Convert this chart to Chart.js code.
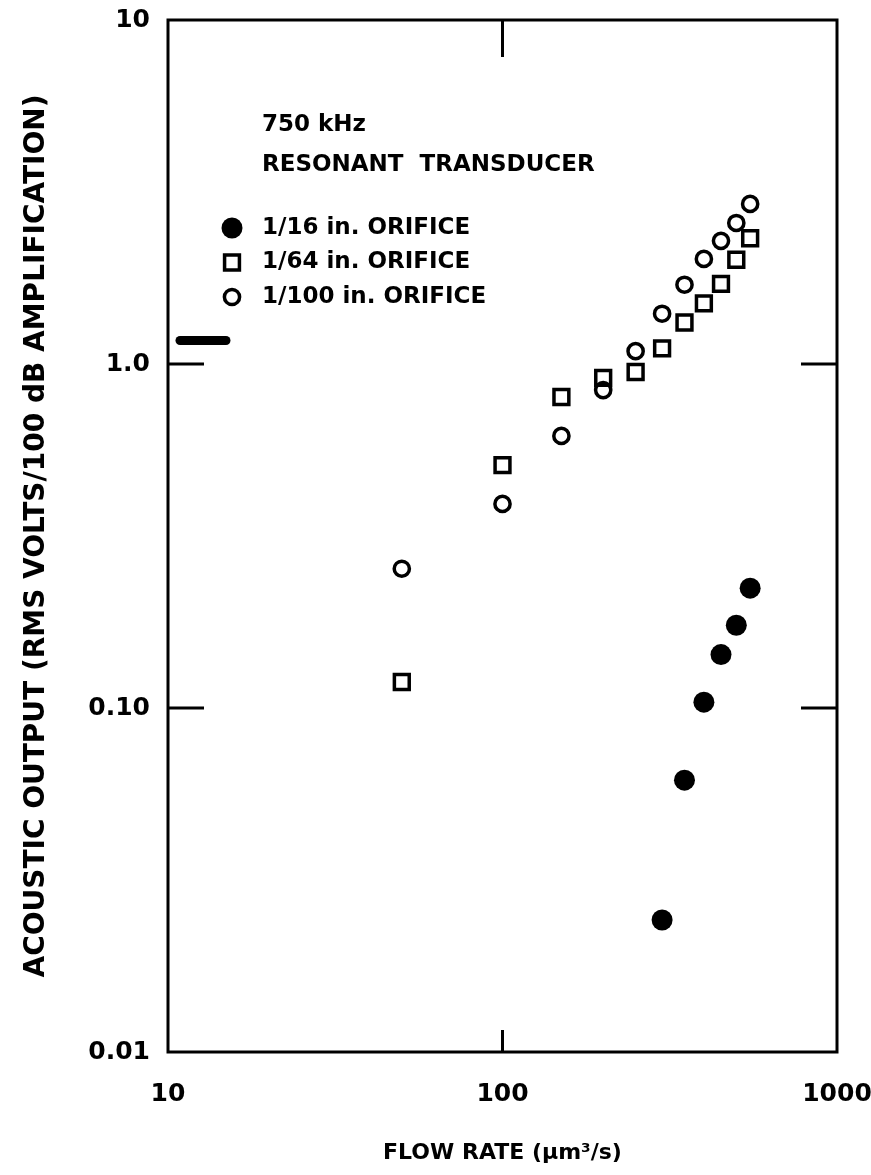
<!DOCTYPE html>
<html>
<head>
<meta charset="utf-8">
<script src="https://cdn.jsdelivr.net/npm/chart.js@4/dist/chart.umd.min.js"></script>
<style>
  html, body { margin: 0; padding: 0; background: #fff; }
  canvas { display: block; }
</style>
</head>
<body>
<canvas id="chart" width="871" height="1175"></canvas>
<script>
// Flow rates (µm³/s) at which each orifice was measured
const flowRates = [50, 100, 150, 200, 250, 300, 350, 400, 450, 500, 550];
const flowRates16 = [300, 350, 400, 450, 500, 550];

// Acoustic output, RMS volts per 100 dB amplification
const output16 = [0.0242, 0.0617, 0.104, 0.143, 0.174, 0.223];
const output64 = [0.119, 0.508, 0.802, 0.911, 0.948, 1.11, 1.32, 1.50, 1.71, 2.01, 2.32];
const output100 = [0.254, 0.392, 0.618, 0.84, 1.09, 1.40, 1.70, 2.02, 2.28, 2.57, 2.92];

const seriesLabels = ['1/16 in. ORIFICE', '1/64 in. ORIFICE', '1/100 in. ORIFICE'];
const headerLines = ['750 kHz', 'RESONANT  TRANSDUCER'];

// Axis ticks
const xTickValues = [10, 100, 1000];
const xTickLabels = ['10', '100', '1000'];
const yTickValues = [0.01, 0.1, 1, 10];
const yTickLabels = ['0.01', '0.10', '1.0', '10'];

// Inward tick marks drawn on the frame
const topTickValues = [100];
const bottomTickValues = [100];
const leftTickValues = [1, 0.1];
const rightTickValues = [1, 0.1];

const INK = '#000';
const FONT = '"DejaVu Sans", "Liberation Sans", Arial, sans-serif';

const toPoints = (xs, ys) => xs.map((x, i) => ({ x, y: ys[i] }));

// Plot frame with long inward ticks
const framePlugin = {
  id: 'frame',
  beforeDatasetsDraw(chart) {
    const { ctx, chartArea: a, scales: { x, y } } = chart;
    ctx.save();
    ctx.strokeStyle = INK;
    ctx.lineWidth = 3;
    ctx.lineCap = 'butt';
    ctx.strokeRect(a.left, a.top, a.right - a.left, a.bottom - a.top);
    const seg = (x1, y1, x2, y2) => { ctx.beginPath(); ctx.moveTo(x1, y1); ctx.lineTo(x2, y2); ctx.stroke(); };
    topTickValues.forEach(v => { const px = x.getPixelForValue(v); seg(px, a.top, px, a.top + 37); });
    bottomTickValues.forEach(v => { const px = x.getPixelForValue(v); seg(px, a.bottom, px, a.bottom - 22); });
    leftTickValues.forEach(v => { const py = y.getPixelForValue(v); seg(a.left, py, a.left + 36, py); });
    rightTickValues.forEach(v => { const py = y.getPixelForValue(v); seg(a.right, py, a.right - 36, py); });
    // heavy pen stroke near the upper left tick
    ctx.lineWidth = 9;
    ctx.lineCap = 'round';
    const py = y.getPixelForValue(1.17);
    seg(a.left + 12, py, a.left + 58, py);
    ctx.restore();
  }
};

// Header text and symbol key inside the plot
const keyPlugin = {
  id: 'key',
  afterDatasetsDraw(chart) {
    const { ctx, chartArea: a } = chart;
    ctx.save();
    ctx.fillStyle = INK;
    ctx.font = 'bold 23px ' + FONT;
    ctx.textBaseline = 'middle';
    ctx.textAlign = 'left';
    const textX = a.left + 94;
    ctx.fillText(headerLines[0], textX, a.top + 105);
    ctx.fillText(headerLines[1], textX, a.top + 145);
    chart.data.datasets.forEach((ds, i) => {
      const rowY = a.top + 208 + i * 34.5;
      ctx.fillStyle = ds.pointBackgroundColor;
      ctx.strokeStyle = ds.pointBorderColor;
      ctx.lineWidth = ds.pointBorderWidth;
      Chart.helpers.drawPoint(ctx, {
        pointStyle: ds.pointStyle,
        radius: ds.pointRadius,
        borderWidth: ds.pointBorderWidth,
        rotation: 0
      }, a.left + 64, rowY);
      ctx.fillStyle = INK;
      ctx.fillText(ds.label, textX, rowY);
    });
    ctx.restore();
  }
};

new Chart(document.getElementById('chart'), {
  type: 'scatter',
  data: {
    datasets: [
      {
        label: seriesLabels[0],
        data: toPoints(flowRates16, output16),
        pointStyle: 'circle',
        pointRadius: 10.5,
        pointBorderWidth: 0,
        pointBackgroundColor: INK,
        pointBorderColor: INK
      },
      {
        label: seriesLabels[1],
        data: toPoints(flowRates, output64),
        pointStyle: 'rect',
        pointRadius: 10.5,
        pointBorderWidth: 3.5,
        pointBackgroundColor: 'rgba(0,0,0,0)',
        pointBorderColor: INK
      },
      {
        label: seriesLabels[2],
        data: toPoints(flowRates, output100),
        pointStyle: 'circle',
        pointRadius: 7.6,
        pointBorderWidth: 3.5,
        pointBackgroundColor: 'rgba(0,0,0,0)',
        pointBorderColor: INK
      }
    ]
  },
  options: {
    responsive: false,
    animation: false,
    events: [],
    layout: { padding: { top: 20, right: 34, left: 0, bottom: 0 } },
    plugins: { legend: { display: false }, tooltip: { enabled: false } },
    scales: {
      x: {
        type: 'logarithmic',
        min: 10,
        max: 1000,
        afterBuildTicks: s => { s.ticks = xTickValues.map(v => ({ value: v })); },
        afterFit: s => {
          s.height = 123;
          s.paddingLeft = 0; s.paddingRight = 0; s.paddingTop = 0; s.paddingBottom = 0;
        },
        grid: { display: false, drawTicks: false },
        border: { display: false },
        ticks: {
          color: INK,
          padding: 27,
          maxRotation: 0,
          autoSkip: false,
          font: { family: FONT, size: 25, weight: 'bold' },
          callback: (v) => xTickLabels[xTickValues.indexOf(v)]
        },
        title: {
          display: true,
          text: 'FLOW RATE (µm³/s)',
          color: INK,
          font: { family: FONT, size: 22, weight: 'bold' },
          padding: { top: 0, bottom: 9 }
        }
      },
      y: {
        type: 'logarithmic',
        min: 0.01,
        max: 10,
        afterBuildTicks: s => { s.ticks = yTickValues.map(v => ({ value: v })); },
        afterFit: s => {
          s.width = 168;
          s.paddingLeft = 0; s.paddingRight = 0; s.paddingTop = 0; s.paddingBottom = 0;
        },
        grid: { display: false, drawTicks: false },
        border: { display: false },
        ticks: {
          color: INK,
          padding: 18,
          autoSkip: false,
          font: { family: FONT, size: 25, weight: 'bold' },
          callback: (v) => yTickLabels[yTickValues.indexOf(v)]
        },
        title: {
          display: true,
          text: 'ACOUSTIC OUTPUT (RMS VOLTS/100 dB AMPLIFICATION)',
          color: INK,
          font: { family: FONT, size: 28, weight: 'bold' },
          padding: { top: 20, bottom: 0 }
        }
      }
    }
  },
  plugins: [framePlugin, keyPlugin]
});
</script>
</body>
</html>
